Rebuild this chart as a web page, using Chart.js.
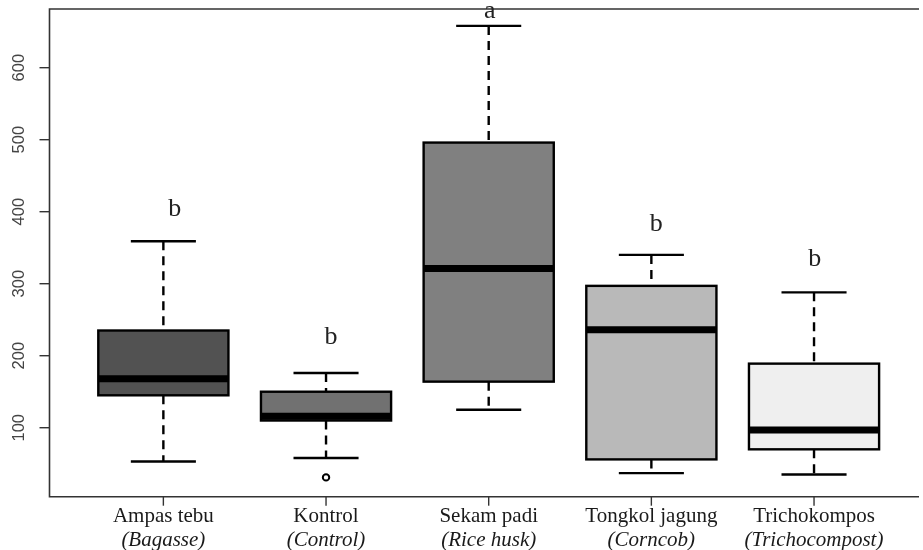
<!DOCTYPE html>
<html>
<head>
<meta charset="utf-8">
<script src="https://cdn.jsdelivr.net/npm/chart.js@4/dist/chart.umd.min.js"></script>
<style>
  html, body { margin: 0; padding: 0; background: #fff; overflow: hidden; }
  #wrap { width: 923px; height: 550px; position: relative; }
</style>
</head>
<body>
<div id="wrap"><canvas id="c" width="923" height="550"></canvas></div>
<script>
// Treatment groups (Indonesian name, English name in italics)
const categories = ['Ampas tebu', 'Kontrol', 'Sekam padi', 'Tongkol jagung', 'Trichokompos'];
const englishNames = ['(Bagasse)', '(Control)', '(Rice husk)', '(Corncob)', '(Trichocompost)'];

// Five-number summaries per group
const whiskerLow  = [53, 58, 125, 37, 35];
const quartile1   = [145, 110, 164, 56, 70];
const medians     = [168, 116, 321, 236, 97];
const quartile3   = [235, 150, 496, 297, 189];
const whiskerHigh = [359, 176, 658, 340, 288];

// Outlying observations: [group position, value]
const outlierGroup = [2];
const outlierValue = [31];

// Significance letters and where they sit (group position, value)
const letters = ['b', 'b', 'a', 'b', 'b'];
const letterX = [1.07, 2.03, 3.006, 4.03, 5.005];
const letterY = [394, 216, 669, 373, 324];

// Y-axis tick labels
const yTicks = [100, 200, 300, 400, 500, 600];

const boxFills = ['#525252', '#717171', '#808080', '#b9b9b9', '#efefef'];

const boxData = categories.map((_, i) => ({ x: i + 1, y: [quartile1[i], quartile3[i]] }));
const outlierData = outlierGroup.map((g, i) => ({ x: g, y: outlierValue[i] }));

const boxplotParts = {
  id: 'boxplotParts',
  beforeDatasetsDraw(chart) {
    const { ctx, scales: { x, y } } = chart;
    ctx.save();
    ctx.strokeStyle = '#000';
    ctx.lineWidth = 2.4;
    const capHalf = Math.abs(x.getPixelForValue(1.2) - x.getPixelForValue(1));
    categories.forEach((_, i) => {
      const cx = x.getPixelForValue(i + 1);
      // dashed whiskers
      ctx.setLineDash([9, 6]);
      ctx.beginPath();
      ctx.moveTo(cx, y.getPixelForValue(whiskerHigh[i]));
      ctx.lineTo(cx, y.getPixelForValue(quartile3[i]));
      ctx.moveTo(cx, y.getPixelForValue(quartile1[i]));
      ctx.lineTo(cx, y.getPixelForValue(whiskerLow[i]));
      ctx.stroke();
      // whisker caps
      ctx.setLineDash([]);
      ctx.beginPath();
      [whiskerHigh[i], whiskerLow[i]].forEach(v => {
        const py = y.getPixelForValue(v);
        ctx.moveTo(cx - capHalf, py);
        ctx.lineTo(cx + capHalf, py);
      });
      ctx.stroke();
    });
    ctx.restore();
  },
  afterDatasetsDraw(chart) {
    const { ctx, chartArea, scales: { x, y } } = chart;
    const meta = chart.getDatasetMeta(0);
    ctx.save();
    // box outlines (centred on the box edges) and medians
    ctx.strokeStyle = '#000';
    categories.forEach((_, i) => {
      const bar = meta.data[i];
      const left = bar.x - bar.width / 2;
      const top = Math.min(bar.y, bar.base);
      const h = Math.abs(bar.base - bar.y);
      ctx.lineWidth = 2.4;
      ctx.strokeRect(left, top, bar.width, h);
      const py = y.getPixelForValue(medians[i]);
      ctx.lineWidth = 7;
      ctx.beginPath();
      ctx.moveTo(left, py);
      ctx.lineTo(left + bar.width, py);
      ctx.stroke();
    });

    // plot frame (top, left, bottom)
    ctx.strokeStyle = '#333';
    ctx.lineWidth = 1.6;
    ctx.beginPath();
    ctx.moveTo(chartArea.right + 2, chartArea.top);
    ctx.lineTo(chartArea.left, chartArea.top);
    ctx.lineTo(chartArea.left, chartArea.bottom);
    ctx.lineTo(chartArea.right + 2, chartArea.bottom);
    ctx.stroke();

    // y ticks and rotated labels
    ctx.lineWidth = 1.4;
    ctx.fillStyle = '#444';
    ctx.font = '16.5px "Liberation Sans", Arial, sans-serif';
    ctx.textAlign = 'center';
    ctx.textBaseline = 'middle';
    yTicks.forEach(v => {
      const py = y.getPixelForValue(v);
      ctx.beginPath();
      ctx.moveTo(chartArea.left - 10, py);
      ctx.lineTo(chartArea.left, py);
      ctx.stroke();
      ctx.save();
      ctx.translate(18.5, py);
      ctx.rotate(-Math.PI / 2);
      ctx.fillText(String(v), 0, 1);
      ctx.restore();
    });

    // x ticks and two-line category labels
    ctx.fillStyle = '#1a1a1a';
    ctx.textBaseline = 'alphabetic';
    categories.forEach((name, i) => {
      const px = x.getPixelForValue(i + 1);
      ctx.beginPath();
      ctx.moveTo(px, chartArea.bottom);
      ctx.lineTo(px, chartArea.bottom + 9);
      ctx.stroke();
      ctx.font = '21px "Liberation Serif", "Times New Roman", serif';
      ctx.fillText(name, px, 522);
      ctx.font = 'italic 21px "Liberation Serif", "Times New Roman", serif';
      ctx.fillText(englishNames[i], px, 546);
    });

    // significance letters
    ctx.fillStyle = '#222';
    ctx.font = '26px "Liberation Serif", "Times New Roman", serif';
    letters.forEach((t, i) => {
      ctx.fillText(t, x.getPixelForValue(letterX[i]), y.getPixelForValue(letterY[i]));
    });
    ctx.restore();
  }
};

new Chart(document.getElementById('c'), {
  type: 'bar',
  data: {
    datasets: [
      {
        data: boxData,
        backgroundColor: boxFills,
        borderWidth: 0,
        barPercentage: 0.8,
        categoryPercentage: 1.0,
        order: 2
      },
      {
        type: 'scatter',
        data: outlierData,
        pointRadius: 3.2,
        pointBorderWidth: 2,
        pointBackgroundColor: '#fff',
        pointBorderColor: '#000',
        order: 1
      }
    ]
  },
  options: {
    responsive: false,
    animation: false,
    events: [],
    layout: { padding: { top: 9, left: 0, right: 0, bottom: 0 } },
    plugins: { legend: { display: false }, tooltip: { enabled: false } },
    scales: {
      x: {
        type: 'linear',
        min: 0.3,
        max: 5.633,
        offset: false,
        grid: { display: false },
        border: { display: false },
        ticks: { display: false },
        // one tick per group so bar widths follow group spacing
        afterBuildTicks(scale) { scale.ticks = categories.map((_, i) => ({ value: i + 1 })); },
        afterFit(scale) { scale.height = 53.3; }
      },
      y: {
        type: 'linear',
        min: 4.2,
        max: 681.5,
        grid: { display: false },
        border: { display: false },
        ticks: { display: false },
        afterFit(scale) { scale.width = 49.5; }
      }
    }
  },
  plugins: [boxplotParts]
});
</script>
</body>
</html>
